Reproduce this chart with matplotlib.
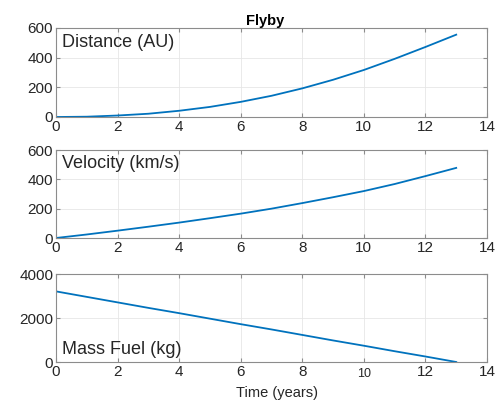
import matplotlib
matplotlib.use("Agg")
import matplotlib.pyplot as plt
import matplotlib.transforms as mtransforms
import numpy as np

plt.rcParams['font.family'] = ['Liberation Sans', 'DejaVu Sans']

time_years = [0, 1, 2, 3, 4, 5, 6, 7, 8, 9, 10, 11, 12, 13]
distance_au = [0, 2, 10, 22, 42, 68, 102, 143, 193, 251, 317, 392, 472, 555]
velocity_kms = [0, 24, 50, 77, 105, 135, 166, 200, 238, 278, 320, 368, 422, 478]
mass_fuel_kg = [3210, 2960, 2710, 2460, 2220, 1970, 1720, 1480, 1230, 980, 740, 490, 250, 0]

xticks = [0, 2, 4, 6, 8, 10, 12, 14]
panels = [
    (distance_au, "Distance (AU)", [0, 200, 400, 600], (0, 600), 0.84),
    (velocity_kms, "Velocity (km/s)", [0, 200, 400, 600], (0, 600), 0.85),
    (mass_fuel_kg, "Mass Fuel (kg)", [0, 2000, 4000], (0, 4000), 0.14),
]

fig = plt.figure(figsize=(4.96, 4.01), dpi=100)
W = 431
rects = [
    [56/496, 1-117/401, W/496, 89/401],
    [56/496, 1-238/401, W/496, 88/401],
    [56/496, 1-362/401, W/496, 88/401],
]
line_color = '#0072BD'
txt_color = '#262626'
box_color = '#8c8c8c'
axes = []
for i, (rect, (vals, label, yt, ylim, ty)) in enumerate(zip(rects, panels)):
    ax = fig.add_axes(rect)
    ax.plot(time_years, vals, color=line_color, lw=1.3)
    ax.set_xlim(0, 14)
    ax.set_ylim(*ylim)
    ax.set_xticks(xticks)
    ax.set_yticks(yt)
    ax.grid(True, color='#e6e6e6', lw=0.6)
    ax.set_axisbelow(True)
    for s in ax.spines.values():
        s.set_color(box_color)
        s.set_linewidth(0.8)
    ax.tick_params(direction='in', top=True, right=True, length=3,
                   color=box_color, labelcolor=txt_color, labelsize=11, pad=2)
    ax.text(0.014, ty, label, transform=ax.transAxes, fontsize=13,
            color=txt_color, va='center', ha='left')
    axes.append(ax)

# the bottom panel's "10" label is drawn smaller in the reference
for lbl in axes[2].get_xticklabels():
    if lbl.get_text() == '10':
        lbl.set_fontsize(9)
        lbl.set_transform(lbl.get_transform() +
                          mtransforms.ScaledTranslation(0, -2/72, fig.dpi_scale_trans))

fig.text(0.535, 1-21/401, "Flyby", ha='center', va='center', fontsize=10.5,
         fontweight='bold', color='black')
fig.text(277/496, 1-393/401, "Time (years)", ha='center', va='center',
         fontsize=10.5, color=txt_color)

fig.savefig("out.png", dpi=100)
